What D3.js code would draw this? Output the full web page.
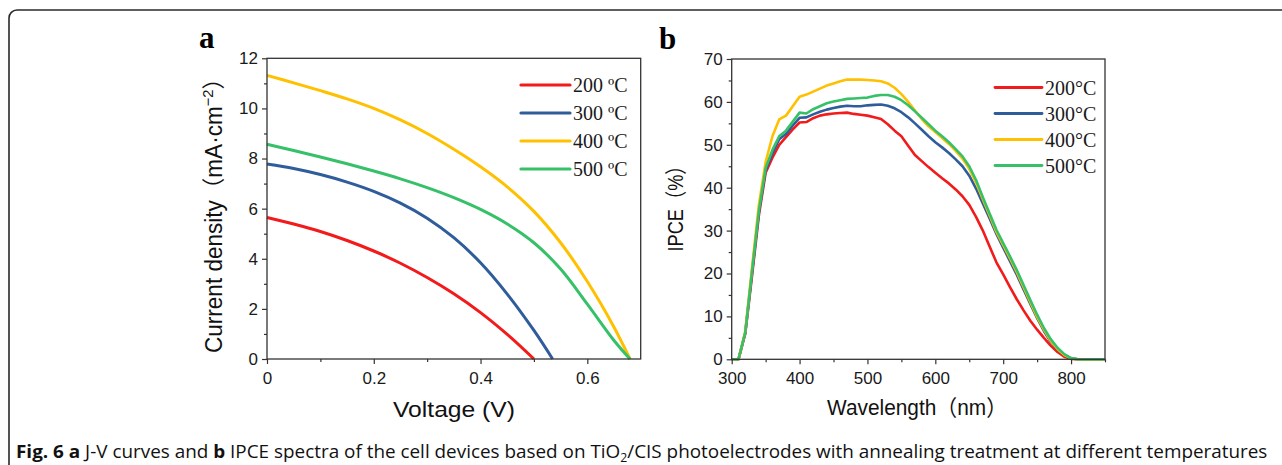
<!DOCTYPE html>
<html>
<head>
<meta charset="utf-8">
<script src="https://cdn.jsdelivr.net/npm/d3@7/dist/d3.min.js"></script>
<style>
  body { margin: 0; background: #fff; }
  svg { display: block; }
</style>
</head>
<body>
<svg id="fig" width="1282" height="465"></svg>
<script>
// ---- data ----
const temps = ["200", "300", "400", "500"];
const colors = ["#f21a1a", "#2f5c9b", "#ffc000", "#36c169"];

// J-V curves (V in volts, J in mA/cm2)
const jvV200 = [0, 0.05, 0.1, 0.15, 0.2, 0.25, 0.3, 0.35, 0.4, 0.45, 0.5];
const jvJ200 = [5.65, 5.39, 5.09, 4.73, 4.31, 3.82, 3.25, 2.6, 1.85, 0.98, 0];
const jvV300 = [0, 0.05, 0.1, 0.15, 0.2, 0.25, 0.3, 0.35, 0.4, 0.45, 0.5, 0.535];
const jvJ300 = [7.78, 7.6, 7.36, 7.06, 6.69, 6.22, 5.62, 4.84, 3.84, 2.59, 1.14, 0];
const jvV400 = [0, 0.05, 0.1, 0.15, 0.2, 0.25, 0.3, 0.35, 0.4, 0.45, 0.5, 0.55, 0.6, 0.65, 0.68];
const jvJ400 = [11.32, 11.02, 10.71, 10.38, 10.0, 9.54, 9.0, 8.37, 7.67, 6.87, 5.89, 4.64, 3.09, 1.27, 0];
const jvV500 = [0, 0.05, 0.1, 0.15, 0.2, 0.25, 0.3, 0.35, 0.4, 0.45, 0.5, 0.55, 0.6, 0.65, 0.68];
const jvJ500 = [8.57, 8.32, 8.06, 7.79, 7.5, 7.19, 6.84, 6.44, 5.97, 5.39, 4.64, 3.59, 2.19, 0.74, 0];

// IPCE spectra (wavelength in nm, IPCE in %)
const wavelength = [300, 310, 320, 330, 340, 350, 360, 370, 380, 390, 400, 410, 420, 430, 440, 450,
  460, 470, 480, 490, 500, 510, 520, 530, 540, 550, 560, 570, 580, 590, 600, 610, 620, 630, 640,
  650, 660, 670, 680, 690, 700, 710, 720, 730, 740, 750, 760, 770, 780, 790, 800, 810, 820, 830, 840, 850];
const ipce200 = [0, 0, 6.0, 19.5, 33.5, 43.5, 47.0, 50.0, 51.8, 53.6, 55.2, 55.3, 56.2, 56.8, 57.1, 57.3,
  57.4, 57.5, 57.2, 57.0, 56.8, 56.4, 56.0, 54.8, 53.3, 52.0, 49.8, 47.6, 46.2, 44.8, 43.5, 42.2, 41.0, 39.6, 38.0,
  36.0, 33.2, 30.0, 26.3, 22.6, 19.8, 16.8, 14.0, 11.4, 9.0, 6.9, 5.0, 3.2, 1.7, 0.6, 0.1, 0, 0, 0, 0, 0];
const ipce300 = [0, 0, 6.2, 20.3, 34.3, 44.2, 48.0, 51.3, 52.5, 54.5, 56.3, 56.4, 57.1, 57.7, 58.2, 58.6,
  58.9, 59.1, 59.0, 59.0, 59.2, 59.3, 59.4, 59.1, 58.5, 57.6, 56.4, 55.0, 53.5, 52.0, 50.6, 49.4, 48.1, 46.6, 45.0,
  42.8, 39.8, 36.3, 32.8, 29.2, 26.0, 22.9, 19.7, 16.3, 12.9, 9.6, 6.6, 4.1, 2.3, 1.0, 0.2, 0, 0, 0, 0, 0];
const ipce400 = [0, 0, 6.5, 21.5, 36.0, 46.0, 52.0, 55.9, 56.8, 59.0, 61.2, 61.7, 62.4, 63.1, 63.8, 64.3,
  64.8, 65.2, 65.2, 65.2, 65.1, 65.0, 64.8, 64.3, 63.3, 61.8, 60.0, 58.0, 56.0, 54.3, 53.0, 51.6, 50.2, 48.6, 46.8,
  44.4, 41.2, 37.3, 33.5, 29.7, 26.6, 23.5, 20.3, 16.8, 13.3, 9.9, 6.9, 4.3, 2.4, 1.0, 0.2, 0, 0, 0, 0, 0];
const ipce500 = [0, 0, 6.3, 20.6, 34.6, 44.6, 48.8, 52.0, 53.3, 55.4, 57.5, 57.3, 58.3, 59.0, 59.7, 60.1,
  60.4, 60.7, 60.8, 60.9, 61.0, 61.4, 61.6, 61.6, 61.2, 60.4, 59.2, 57.8, 56.3, 54.8, 53.3, 52.0, 50.6, 49.0, 47.3,
  45.0, 41.8, 37.8, 34.0, 30.2, 27.1, 24.0, 20.8, 17.3, 13.8, 10.4, 7.3, 4.7, 2.7, 1.2, 0.3, 0, 0, 0, 0, 0];

const jvTicksX = [0, 0.2, 0.4, 0.6];
const jvMinorX = [0.1, 0.3, 0.5];
const jvTicksY = [0, 2, 4, 6, 8, 10, 12];
const jvMinorY = [1, 3, 5, 7, 9, 11];
const ipceTicksX = [300, 400, 500, 600, 700, 800];
const ipceMinorX = [350, 450, 550, 650, 750, 850];
const ipceTicksY = [0, 10, 20, 30, 40, 50, 60, 70];
const ipceMinorY = [5, 15, 25, 35, 45, 55, 65];

const jvSeries = [
  { v: jvV200, j: jvJ200 },
  { v: jvV300, j: jvJ300 },
  { v: jvV400, j: jvJ400 },
  { v: jvV500, j: jvJ500 }
];
const ipceSeries = [ipce200, ipce300, ipce400, ipce500];

// ---- drawing ----
const svg = d3.select("#fig");
const sans = "'Liberation Sans', Arial, 'Noto Sans CJK JP', sans-serif";
const serif = "'Liberation Serif', 'Times New Roman', serif";
const axisColor = "#333";

// outer frame (open to the right and bottom, like the page crop)
svg.append("rect")
  .attr("x", 9).attr("y", 10)
  .attr("width", 1320).attr("height", 520)
  .attr("rx", 8)
  .attr("fill", "none")
  .attr("stroke", "#2a2a2a")
  .attr("stroke-width", 1.6);

function drawAxes(g, x, y, opts) {
  const [x0, x1] = x.range();
  const [y0, y1] = y.range();

  g.append("g")
    .attr("transform", `translate(0,${y0})`)
    .call(d3.axisBottom(x).tickValues(opts.minorX).tickSize(3).tickFormat(""))
    .call(a => a.select(".domain").remove());
  g.append("g")
    .attr("transform", `translate(0,${y0})`)
    .call(d3.axisBottom(x).tickValues(opts.ticksX).tickSize(5).tickPadding(8).tickFormat(opts.fmtX))
    .call(a => a.select(".domain").remove());
  g.append("g")
    .attr("transform", `translate(${x0},0)`)
    .call(d3.axisLeft(y).tickValues(opts.minorY).tickSize(3).tickFormat(""))
    .call(a => a.select(".domain").remove());
  g.append("g")
    .attr("transform", `translate(${x0},0)`)
    .call(d3.axisLeft(y).tickValues(opts.ticksY).tickSize(5).tickPadding(4).tickFormat(d3.format("d")))
    .call(a => a.select(".domain").remove());

  g.selectAll(".tick line").attr("stroke", axisColor).attr("stroke-width", 1.2);
  g.selectAll(".tick text")
    .attr("font-family", sans)
    .attr("font-size", 17)
    .attr("fill", "#1a1a1a");

  g.append("rect")
    .attr("x", x0).attr("y", y1)
    .attr("width", x1 - x0).attr("height", y0 - y1)
    .attr("fill", "none")
    .attr("stroke", axisColor)
    .attr("stroke-width", 1.3);
}

function drawLegend(g, x, y0, step, labels, lineLen, lw) {
  labels.forEach((lab, i) => {
    const yy = y0 + i * step;
    g.append("line")
      .attr("x1", x).attr("x2", x + lineLen)
      .attr("y1", yy).attr("y2", yy)
      .attr("stroke", colors[i])
      .attr("stroke-width", lw)
      .attr("stroke-linecap", "round");
    g.append("text")
      .attr("x", x + lineLen + 3)
      .attr("y", yy + 7)
      .attr("font-family", serif)
      .attr("font-size", 20)
      .attr("fill", "#1a1a1a")
      .text(lab);
  });
}

// ---- panel a: J-V ----
const ga = svg.append("g");
const xa = d3.scaleLinear().domain([0, 0.7]).range([267, 640.7]);
const ya = d3.scaleLinear().domain([0, 12]).range([359, 58.3]);

const lineA = d3.line()
  .x(d => xa(d[0]))
  .y(d => ya(d[1]))
  .curve(d3.curveCatmullRom.alpha(0.5));

jvSeries.forEach((s, i) => {
  ga.append("path")
    .datum(s.v.map((v, k) => [v, s.j[k]]))
    .attr("d", lineA)
    .attr("fill", "none")
    .attr("stroke", colors[i])
    .attr("stroke-width", 3);
});

drawAxes(ga, xa, ya, {
  ticksX: jvTicksX, minorX: jvMinorX, ticksY: jvTicksY, minorY: jvMinorY,
  fmtX: d => d === 0 ? "0" : d3.format(".1f")(d)
});

drawLegend(ga, 521, 85, 28, temps.map(t => t + " \u00baC"), 49, 3.2);

ga.append("text")
  .attr("x", 199).attr("y", 48)
  .attr("font-family", serif)
  .attr("font-weight", "bold")
  .attr("font-size", 31)
  .text("a");

ga.append("text")
  .attr("x", 454).attr("y", 417)
  .attr("text-anchor", "middle")
  .attr("font-family", sans)
  .attr("font-size", 22)
  .attr("textLength", 122)
  .attr("lengthAdjust", "spacingAndGlyphs")
  .attr("fill", "#111")
  .text("Voltage (V)");

const yta = ga.append("text")
  .attr("transform", "translate(222,210) rotate(-90)")
  .attr("text-anchor", "middle")
  .attr("font-family", sans)
  .attr("font-size", 23)
  .attr("fill", "#111")
  .attr("textLength", 286)
  .attr("lengthAdjust", "spacingAndGlyphs");
yta.append("tspan").text("Current density\uff08mA\u00b7cm");
yta.append("tspan").attr("dy", -9).attr("font-size", 15).text("\u22122");
yta.append("tspan").attr("dy", 9).text("\uff09");

// ---- panel b: IPCE ----
const gb = svg.append("g");
const xb = d3.scaleLinear().domain([300, 850]).range([731.7, 1105]);
const yb = d3.scaleLinear().domain([0, 70]).range([359.3, 59]);

const lineB = d3.line()
  .x(d => xb(d[0]))
  .y(d => yb(d[1]));

ipceSeries.forEach((s, i) => {
  gb.append("path")
    .datum(wavelength.map((w, k) => [w, s[k]]))
    .attr("d", lineB)
    .attr("fill", "none")
    .attr("stroke", colors[i])
    .attr("stroke-width", 2.6)
    .attr("stroke-linejoin", "round");
});

drawAxes(gb, xb, yb, {
  ticksX: ipceTicksX, minorX: ipceMinorX, ticksY: ipceTicksY, minorY: ipceMinorY,
  fmtX: d3.format("d")
});

drawLegend(gb, 995, 87.5, 26, temps.map(t => t + "\u00b0C"), 47, 2.8);

gb.append("text")
  .attr("x", 659).attr("y", 49)
  .attr("font-family", serif)
  .attr("font-weight", "bold")
  .attr("font-size", 31)
  .text("b");

gb.append("text")
  .attr("x", 917).attr("y", 415)
  .attr("text-anchor", "middle")
  .attr("font-family", sans)
  .attr("font-size", 22)
  .attr("textLength", 180)
  .attr("lengthAdjust", "spacingAndGlyphs")
  .attr("fill", "#111")
  .text("Wavelength\uff08nm\uff09");

gb.append("text")
  .attr("transform", "translate(683,204) rotate(-90)")
  .attr("text-anchor", "middle")
  .attr("font-family", sans)
  .attr("font-size", 22)
  .attr("textLength", 95)
  .attr("lengthAdjust", "spacingAndGlyphs")
  .attr("fill", "#111")
  .text("IPCE\uff08%\uff09");

// ---- caption ----
const cap = svg.append("text")
  .attr("x", 0).attr("y", 0)
  .attr("font-family", "'Open Sans', 'Liberation Sans', sans-serif")
  .attr("font-size", 18.5)
  .attr("fill", "#111");
cap.append("tspan").attr("font-weight", "bold").text("Fig. 6 a");
cap.append("tspan").text(" J-V curves and ");
cap.append("tspan").attr("font-weight", "bold").text("b");
cap.append("tspan").text(" IPCE spectra of the cell devices based on TiO");
cap.append("tspan").attr("font-size", 12).attr("dy", 4).text("2");
cap.append("tspan").attr("dy", -4).text("/CIS photoelectrodes with annealing treatment at different temperatures");
const capW = cap.node().getBBox().width;
const capTarget = 1252;
cap.attr("transform", `translate(16,458) scale(${capTarget / capW},1)`);
</script>
</body>
</html>
